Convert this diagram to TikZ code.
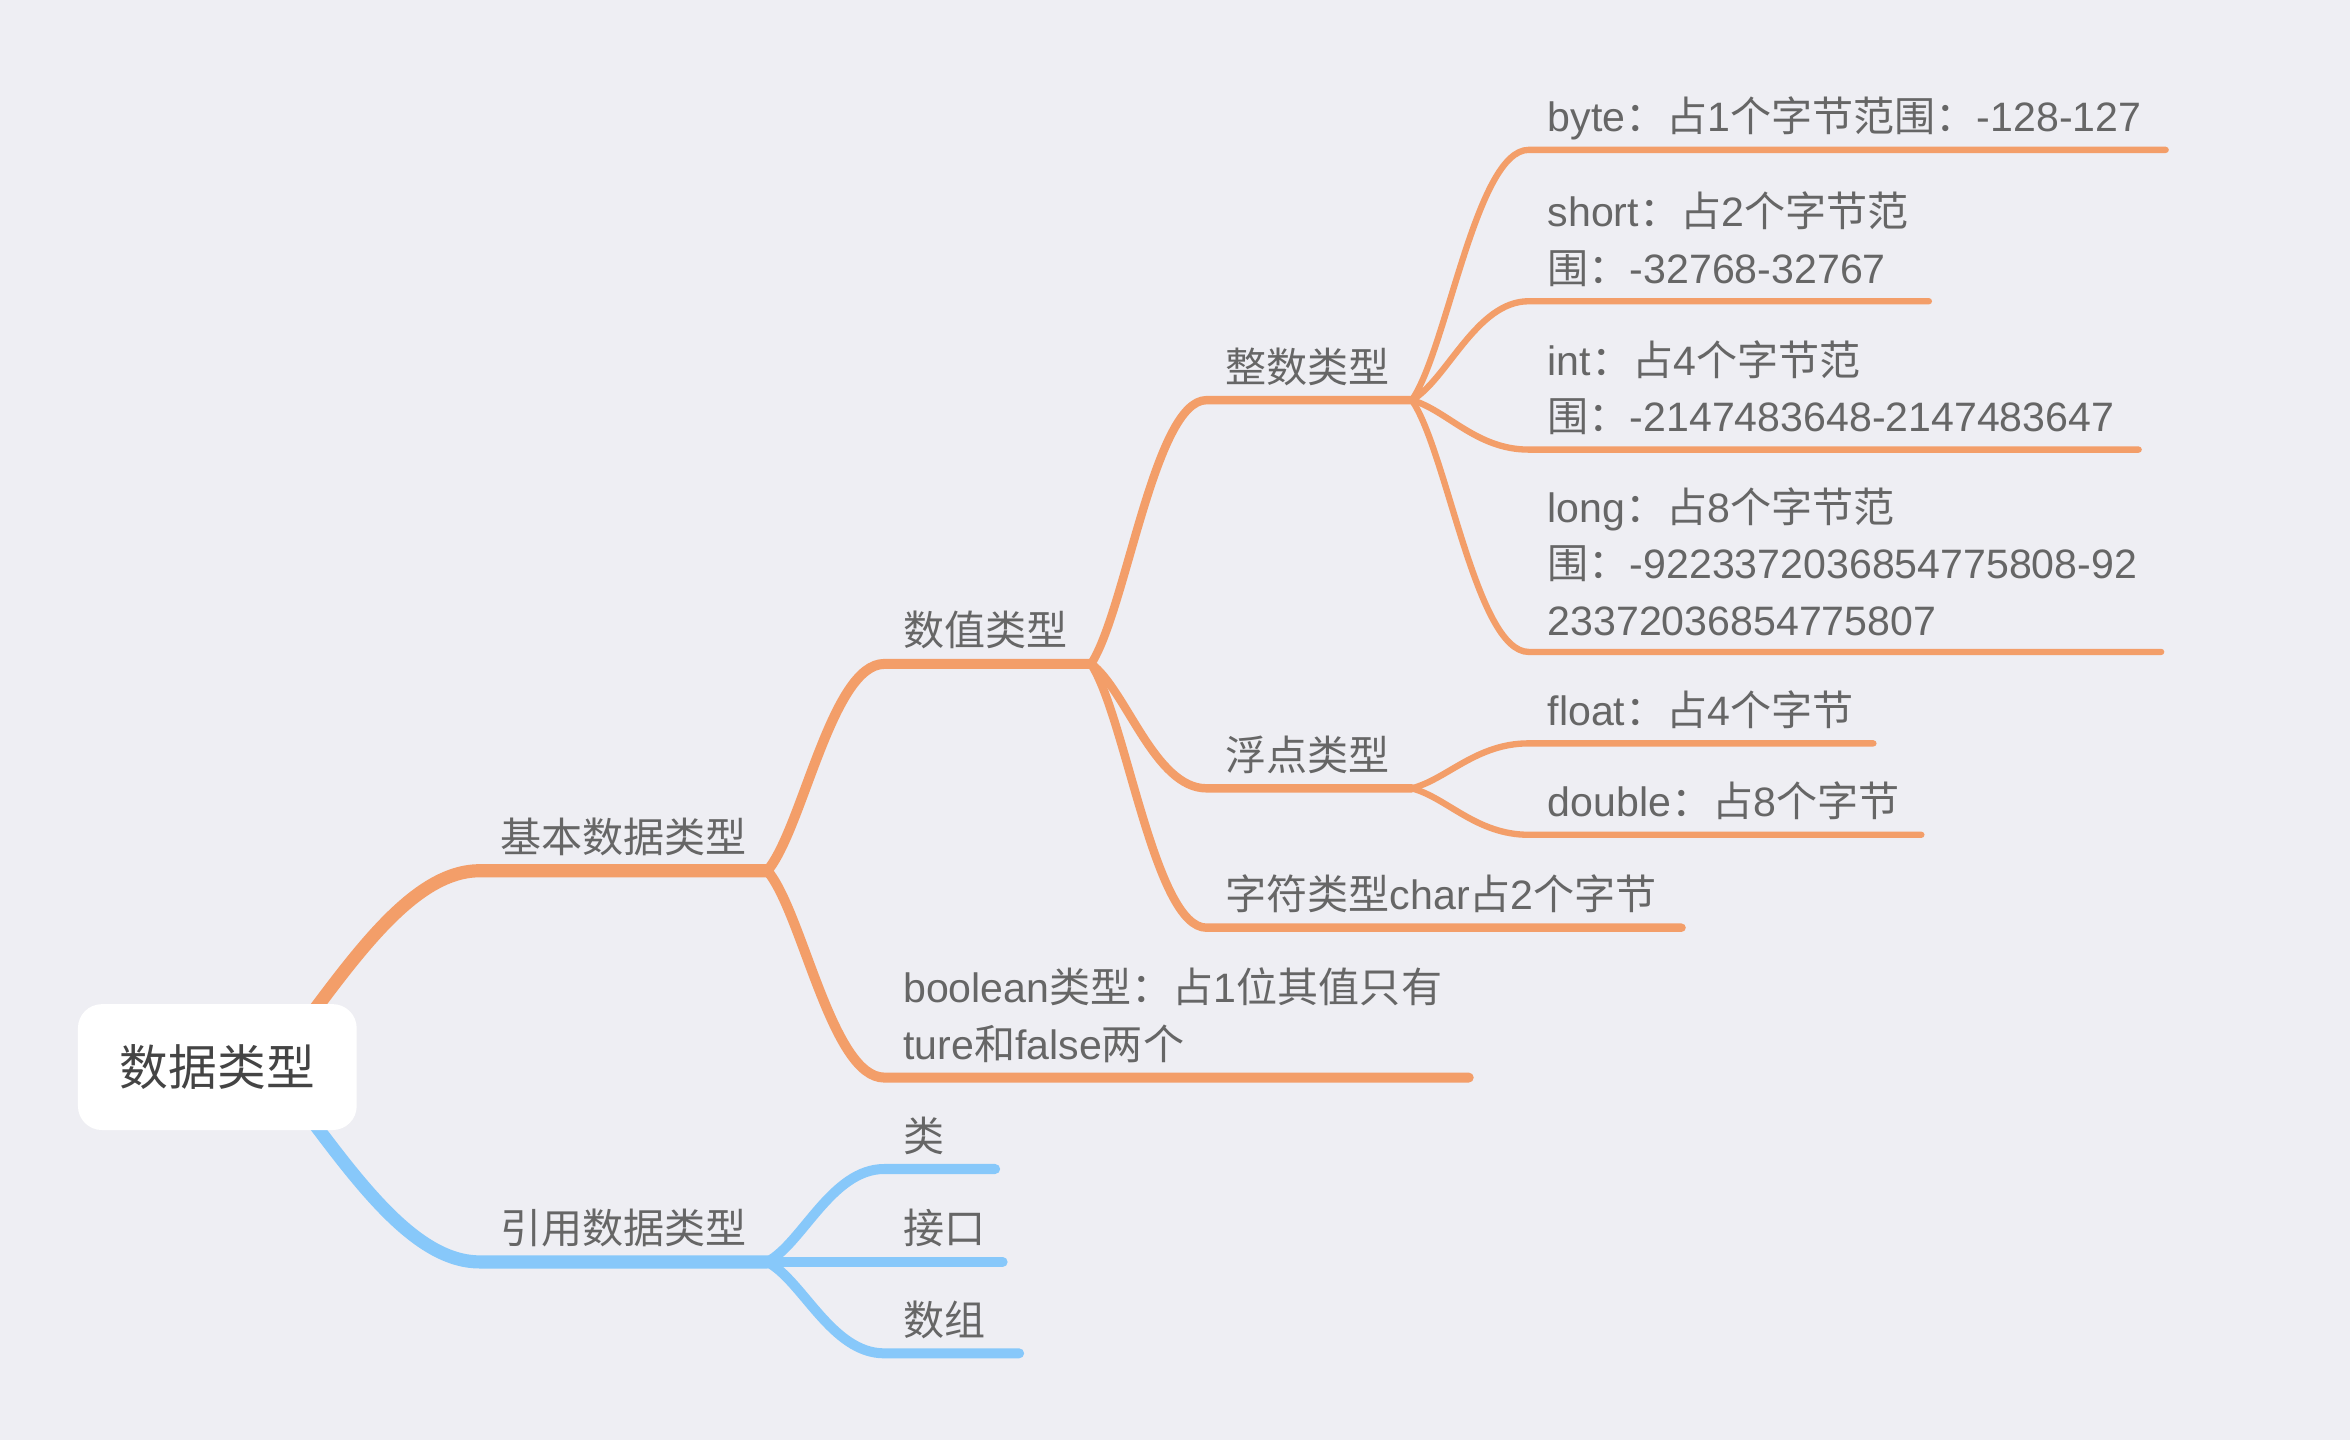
\documentclass[tikz,border=0pt]{standalone}
\usepackage{fontspec}
\setmainfont{Liberation Sans}
\newfontfamily\cjkfont{Noto Sans CJK SC}
\usetikzlibrary{calc}

% ideographs and fullwidth forms go to the CJK font
\XeTeXinterchartokenstate=1
\chardef\cjkclass=1
\newcount\cjkcnt
\cjkcnt="4E00
\loop
  \XeTeXcharclass\cjkcnt=\cjkclass
  \ifnum\cjkcnt<"9FFF \advance\cjkcnt by 1
\repeat
\cjkcnt="FF00
\loop
  \XeTeXcharclass\cjkcnt=\cjkclass
  \ifnum\cjkcnt<"FFEF \advance\cjkcnt by 1
\repeat
\XeTeXinterchartoks 0 \cjkclass = {\cjkfont}
\XeTeXinterchartoks 4095 \cjkclass = {\cjkfont}
\XeTeXinterchartoks \cjkclass 0 = {\rmfamily}
\XeTeXinterchartoks \cjkclass 4095 = {\rmfamily}

\definecolor{bgc}{HTML}{EEEEF3}
\definecolor{mmorange}{HTML}{F39E69}
\definecolor{mmblue}{HTML}{87C8FA}
\definecolor{txt}{HTML}{666666}
\definecolor{roottxt}{HTML}{444444}

\begin{document}
\begin{tikzpicture}[
  x=0.1mm, y=-0.1mm,
  root/.style={rectangle, fill=white, rounded corners=1.6mm, minimum width=18.6mm,
               minimum height=8.4mm, inner sep=0pt, text=roottxt,
               font=\fontsize{9.25pt}{11pt}\selectfont},
  lbl/.style={anchor=base west, inner sep=0pt, align=left, text=txt,
              font=\fontsize{7.8pt}{10.75pt}\selectfont},
  obr/.style={draw=mmorange, line cap=round, line join=round},
  bbr/.style={draw=mmblue, line cap=round, line join=round},
  lv1/.style={line width=2.5pt},
  lv2/.style={line width=1.9pt},
  lv3/.style={line width=1.6pt},
  lv4/.style={line width=1.2pt},
  branch/.style={to path={let \p1=(\tikztostart), \p2=(\tikztotarget) in
    .. controls ({\x1+0.3*(\x2-\x1)},{\y1+0.2*(\y2-\y1)})
    and ({\x1+0.55*(\x2-\x1)},\y2) .. (\tikztotarget)}}
]
\fill[bgc] (0,0) rectangle (1568,961);

% where each branch line starts and ends
\coordinate (root-o) at (181,712);
\coordinate (basic-s) at (320,581);   \coordinate (basic-e) at (512,581);
\coordinate (ref-s) at (320,842);     \coordinate (ref-e) at (512,842);
\coordinate (numeric-s) at (590,443); \coordinate (numeric-e) at (728,443);
\coordinate (boolean-s) at (590,719); \coordinate (boolean-e) at (980,719);
\coordinate (class-s) at (590,780);   \coordinate (class-e) at (664,780);
\coordinate (iface-s) at (590,842);   \coordinate (iface-e) at (669,842);
\coordinate (array-s) at (590,903);   \coordinate (array-e) at (680,903);
\coordinate (integer-s) at (805,267); \coordinate (integer-e) at (942,267);
\coordinate (floating-s) at (805,526); \coordinate (floating-e) at (942,526);
\coordinate (character-s) at (805,619); \coordinate (character-e) at (1122,619);
\coordinate (byte-s) at (1020,100);   \coordinate (byte-e) at (1445,100);
\coordinate (short-s) at (1020,201);  \coordinate (short-e) at (1287,201);
\coordinate (int-s) at (1020,300);    \coordinate (int-e) at (1427,300);
\coordinate (long-s) at (1020,435);   \coordinate (long-e) at (1442,435);
\coordinate (float-s) at (1020,496);  \coordinate (float-e) at (1250,496);
\coordinate (double-s) at (1020,557); \coordinate (double-e) at (1282,557);

% branches
\draw[obr, lv1] (root-o) .. controls ($(root-o)+(45,-57)$) and ($(basic-s)+(-50,0)$) .. (basic-s) -- (basic-e);
\draw[bbr, lv1] (root-o) .. controls ($(root-o)+(45,57)$) and ($(ref-s)+(-50,0)$) .. (ref-s) -- (ref-e);
\draw[obr, lv2] (basic-e) to[branch] (numeric-s) -- (numeric-e);
\draw[obr, lv2] (basic-e) to[branch] (boolean-s) -- (boolean-e);
\draw[bbr, lv2] (ref-e) to[branch] (class-s) -- (class-e);
\draw[bbr, lv2] (ref-e) to[branch] (iface-s) -- (iface-e);
\draw[bbr, lv2] (ref-e) to[branch] (array-s) -- (array-e);
\draw[obr, lv3] (numeric-e) to[branch] (integer-s) -- (integer-e);
\draw[obr, lv3] (numeric-e) to[branch] (floating-s) -- (floating-e);
\draw[obr, lv3] (numeric-e) to[branch] (character-s) -- (character-e);
\draw[obr, lv4] (integer-e) to[branch] (byte-s) -- (byte-e);
\draw[obr, lv4] (integer-e) to[branch] (short-s) -- (short-e);
\draw[obr, lv4] (integer-e) to[branch] (int-s) -- (int-e);
\draw[obr, lv4] (integer-e) to[branch] (long-s) -- (long-e);
\draw[obr, lv4] (floating-e) to[branch] (float-s) -- (float-e);
\draw[obr, lv4] (floating-e) to[branch] (double-s) -- (double-e);

\node[root] (root) at (145,712) {数据类型};

% topics (base = last line)
\node[lbl] (basic) at (333,569) {基本数据类型};
\node[lbl] (ref) at (333,830) {引用数据类型};
\node[lbl] (numeric) at (602,431) {数值类型};
\node[lbl] (boolean) at (602,707) {boolean类型：占1位其值只有\\ture和false两个};
\node[lbl] (class) at (602,768) {类};
\node[lbl] (iface) at (602,830) {接口};
\node[lbl] (array) at (602,891) {数组};
\node[lbl] (integer) at (817,255) {整数类型};
\node[lbl] (floating) at (817,514) {浮点类型};
\node[lbl] (character) at (817,607) {字符类型char占2个字节};
\node[lbl] (byte) at (1032,88) {byte：占1个字节范围：-128-127};
\node[lbl] (short) at (1032,189) {short：占2个字节范\\围：-32768-32767};
\node[lbl] (int) at (1032,288) {int：占4个字节范\\围：-2147483648-2147483647};
\node[lbl] (long) at (1032,424) {long：占8个字节范\\围：-9223372036854775808-92\\23372036854775807};
\node[lbl] (float) at (1032,484) {float：占4个字节};
\node[lbl] (double) at (1032,545) {double：占8个字节};
\end{tikzpicture}
\end{document}
